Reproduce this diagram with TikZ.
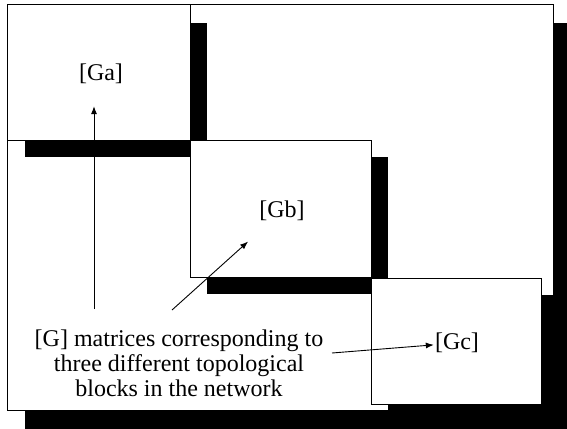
\documentclass[tikz,border=0pt]{standalone}
\usepackage{fontspec}
\setmainfont{Liberation Serif}
\usetikzlibrary{arrows.meta}

\begin{document}
\begin{tikzpicture}[x=1pt,y=-1pt,
        panel/.style={draw,fill=white,line width=1pt},
        blockshadow/.style={fill=black},
        ptr/.style={-{Latex[length=8pt,width=6pt]},line width=0.9pt},
        every node/.style={font=\fontsize{24}{25}\selectfont}]

        \useasboundingbox (0,0) rectangle (567,428);
        \clip (0,0) rectangle (567,428);

        % outer frame
        \fill[blockshadow] (25,23) rectangle (575,432);
        \draw[panel] (7,5) rectangle (553,410);

        % block a
        \fill[blockshadow] (25,23) rectangle (207,157);
        \draw[panel] (7,5) rectangle (190,140);

        % block b
        \fill[blockshadow] (207,157) rectangle (388,294);
        \draw[panel] (190,140) rectangle (371,277);

        % block c
        \fill[blockshadow] (388,295) rectangle (558,421);
        \draw[panel] (371,278) rectangle (541,404);

        % matrix names
        \node[inner sep=1pt] (Ga) at (101,74) {[Ga]};
        \node[inner sep=1pt] (Gb) at (282,211) {[Gb]};
        \node[inner sep=1pt] (Gc) at (457,343) {[Gc]};

        % note
        \node[align=center,inner sep=0pt] (note) at (179,363)
            {[G] matrices corresponding to\\three different topological\\blocks in the network};

        % pointers
        \coordinate (fromA) at (94,309);
        \coordinate (fromB) at (172,310);
        \coordinate (fromC) at (332,353);
        \draw[ptr,shorten >=21pt] (fromA) -- (fromA |- Ga.south);
        \draw[ptr,shorten >=29pt] (fromB) -- (Gb);
        \draw[ptr] (fromC) -- (Gc);
    \end{tikzpicture}
\end{document}
